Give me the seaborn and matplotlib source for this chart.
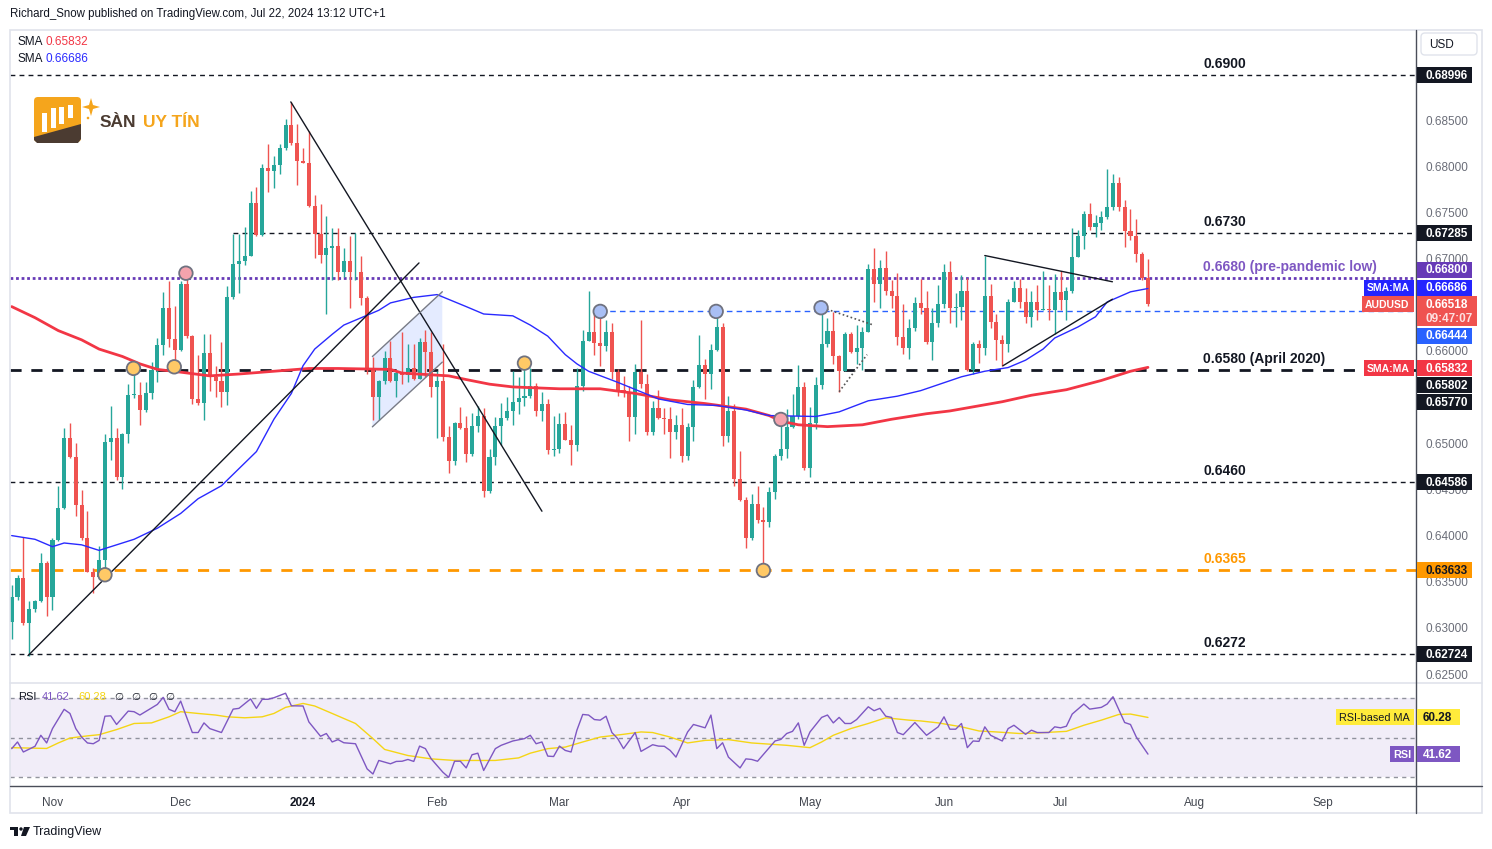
import numpy as np
import pandas as pd
import matplotlib
matplotlib.use("Agg")
import matplotlib.pyplot as plt
import seaborn as sns
from matplotlib.patches import Rectangle, FancyBboxPatch, Polygon, Circle

# --- AUD/USD daily candles, Oct 23 2023 -> Jul 22 2024 (open = previous close) ---
first_open = 0.6307
closes = [
    0.6335, 0.6355, 0.6306, 0.6321, 0.6330, 0.6371, 0.6334, 0.6396, 0.6431, 0.6507,
    0.6486, 0.6434, 0.6398, 0.6362, 0.6356, 0.6375, 0.6502, 0.6507, 0.6465, 0.6511,
    0.6553, 0.6553, 0.6537, 0.6555, 0.6580, 0.6607, 0.6647, 0.6614, 0.6602, 0.6674,
    0.6617, 0.6549, 0.6545, 0.6599, 0.6573, 0.6568, 0.6557, 0.6659, 0.6695, 0.6698,
    0.6704, 0.6761, 0.6727, 0.6799, 0.6796, 0.6802, 0.6821, 0.6846, 0.6826, 0.6807,
    0.6805, 0.6758, 0.6728, 0.6705, 0.6712, 0.6715, 0.6686, 0.6698, 0.6686, 0.6687,
    0.6658, 0.6582, 0.6551, 0.6568, 0.6593, 0.6568, 0.6577, 0.6575, 0.6582, 0.6571,
    0.6611, 0.6600, 0.6562, 0.6568, 0.6508, 0.6482, 0.6523, 0.6518, 0.6489, 0.6520,
    0.6530, 0.6449, 0.6486, 0.6520, 0.6528, 0.6536, 0.6546, 0.6550, 0.6552, 0.6563,
    0.6536, 0.6543, 0.6494, 0.6495, 0.6522, 0.6505, 0.6499, 0.6563, 0.6612, 0.6621,
    0.6610, 0.6606, 0.6621, 0.6578, 0.6559, 0.6557, 0.6529, 0.6578, 0.6565, 0.6513,
    0.6539, 0.6528, 0.6527, 0.6513, 0.6521, 0.6487, 0.6519, 0.6562, 0.6586, 0.6576,
    0.6602, 0.6627, 0.6509, 0.6536, 0.6462, 0.6440, 0.6398, 0.6435, 0.6418, 0.6416,
    0.6448, 0.6487, 0.6495, 0.6519, 0.6531, 0.6562, 0.6474, 0.6523, 0.6564, 0.6608,
    0.6623, 0.6596, 0.6579, 0.6619, 0.6600, 0.6604, 0.6621, 0.6690, 0.6674, 0.6691,
    0.6666, 0.6660, 0.6616, 0.6604, 0.6626, 0.6653, 0.6648, 0.6611, 0.6631, 0.6652,
    0.6686, 0.6648, 0.6649, 0.6666, 0.6580, 0.6608, 0.6604, 0.6661, 0.6632, 0.6613,
    0.6608, 0.6654, 0.6669, 0.6654, 0.6638, 0.6654, 0.6645, 0.6646, 0.6645, 0.6665,
    0.6656, 0.6666, 0.6703, 0.6725, 0.6749, 0.6735, 0.6739, 0.6746, 0.6757, 0.6783,
    0.6757, 0.6731, 0.6726, 0.6706, 0.6680, 0.6652,
]
highs = [
    0.6347, 0.6358, 0.6399, 0.6330, 0.6331, 0.6382, 0.6374, 0.6398, 0.6455, 0.6518,
    0.6523, 0.6501, 0.6450, 0.6428, 0.6366, 0.6390, 0.6511, 0.6541, 0.6518, 0.6512,
    0.6565, 0.6581, 0.6567, 0.6567, 0.6589, 0.6615, 0.6665, 0.6677, 0.6650, 0.6677,
    0.6683, 0.6618, 0.6597, 0.6619, 0.6619, 0.6585, 0.6611, 0.6671, 0.6728, 0.6728,
    0.6735, 0.6774, 0.6779, 0.6803, 0.6825, 0.6812, 0.6825, 0.6852, 0.6871, 0.6847,
    0.6821, 0.6839, 0.6770, 0.6760, 0.6747, 0.6734, 0.6734, 0.6712, 0.6725, 0.6729,
    0.6704, 0.6661, 0.6594, 0.6569, 0.6601, 0.6612, 0.6579, 0.6621, 0.6609, 0.6609,
    0.6615, 0.6624, 0.6621, 0.6579, 0.6609, 0.6520, 0.6524, 0.6540, 0.6531, 0.6534,
    0.6541, 0.6539, 0.6495, 0.6529, 0.6545, 0.6551, 0.6579, 0.6573, 0.6589, 0.6582,
    0.6566, 0.6557, 0.6549, 0.6531, 0.6534, 0.6535, 0.6521, 0.6582, 0.6624, 0.6666,
    0.6643, 0.6643, 0.6635, 0.6631, 0.6581, 0.6574, 0.6563, 0.6587, 0.6634, 0.6576,
    0.6547, 0.6559, 0.6539, 0.6540, 0.6532, 0.6539, 0.6523, 0.6569, 0.6618, 0.6592,
    0.6609, 0.6644, 0.6631, 0.6552, 0.6543, 0.6493, 0.6443, 0.6446, 0.6455, 0.6432,
    0.6454, 0.6489, 0.6529, 0.6538, 0.6554, 0.6586, 0.6567, 0.6540, 0.6573, 0.6647,
    0.6637, 0.6643, 0.6597, 0.6621, 0.6621, 0.6629, 0.6627, 0.6695, 0.6713, 0.6700,
    0.6709, 0.6678, 0.6685, 0.6652, 0.6636, 0.6659, 0.6679, 0.6666, 0.6647, 0.6672,
    0.6695, 0.6698, 0.6664, 0.6683, 0.6680, 0.6611, 0.6613, 0.6704, 0.6674, 0.6641,
    0.6618, 0.6657, 0.6677, 0.6679, 0.6669, 0.6666, 0.6672, 0.6688, 0.6672, 0.6684,
    0.6688, 0.6670, 0.6734, 0.6732, 0.6753, 0.6761, 0.6748, 0.6753, 0.6798, 0.6793,
    0.6789, 0.6764, 0.6755, 0.6744, 0.6708, 0.6701,
]
lows = [
    0.6289, 0.6331, 0.6304, 0.6271, 0.6318, 0.6329, 0.6314, 0.6320, 0.6395, 0.6430,
    0.6485, 0.6422, 0.6396, 0.6362, 0.6339, 0.6354, 0.6362, 0.6483, 0.6461, 0.6452,
    0.6501, 0.6550, 0.6521, 0.6535, 0.6549, 0.6567, 0.6597, 0.6605, 0.6585, 0.6601,
    0.6615, 0.6544, 0.6542, 0.6526, 0.6558, 0.6551, 0.6540, 0.6542, 0.6657, 0.6664,
    0.6694, 0.6704, 0.6725, 0.6726, 0.6773, 0.6777, 0.6793, 0.6819, 0.6824, 0.6781,
    0.6805, 0.6757, 0.6702, 0.6696, 0.6641, 0.6678, 0.6678, 0.6681, 0.6648, 0.6678,
    0.6651, 0.6576, 0.6526, 0.6526, 0.6565, 0.6567, 0.6551, 0.6565, 0.6567, 0.6570,
    0.6571, 0.6573, 0.6551, 0.6507, 0.6503, 0.6469, 0.6477, 0.6516, 0.6481, 0.6487,
    0.6513, 0.6443, 0.6447, 0.6477, 0.6499, 0.6526, 0.6521, 0.6533, 0.6541, 0.6550,
    0.6531, 0.6525, 0.6489, 0.6487, 0.6490, 0.6504, 0.6478, 0.6493, 0.6558, 0.6613,
    0.6597, 0.6585, 0.6601, 0.6571, 0.6552, 0.6551, 0.6503, 0.6511, 0.6561, 0.6510,
    0.6510, 0.6527, 0.6511, 0.6485, 0.6506, 0.6481, 0.6483, 0.6503, 0.6561, 0.6549,
    0.6560, 0.6601, 0.6498, 0.6502, 0.6455, 0.6438, 0.6388, 0.6396, 0.6415, 0.6363,
    0.6410, 0.6441, 0.6483, 0.6485, 0.6518, 0.6527, 0.6472, 0.6465, 0.6516, 0.6560,
    0.6605, 0.6587, 0.6557, 0.6579, 0.6599, 0.6587, 0.6580, 0.6621, 0.6654, 0.6648,
    0.6662, 0.6647, 0.6607, 0.6598, 0.6592, 0.6623, 0.6641, 0.6609, 0.6591, 0.6627,
    0.6648, 0.6631, 0.6627, 0.6634, 0.6579, 0.6576, 0.6588, 0.6597, 0.6626, 0.6591,
    0.6585, 0.6600, 0.6654, 0.6648, 0.6631, 0.6627, 0.6635, 0.6645, 0.6635, 0.6619,
    0.6645, 0.6635, 0.6664, 0.6703, 0.6711, 0.6732, 0.6724, 0.6732, 0.6744, 0.6754,
    0.6753, 0.6714, 0.6721, 0.6697, 0.6678, 0.6650,
]

# --- moving averages (bar index, value) ---
sma50_bar = [0, 4, 7, 9, 12, 15, 17, 21, 25, 29, 32, 36, 42, 45, 48, 50, 52, 55, 57, 60,
             63, 65, 69, 73, 78, 81, 86, 89, 92, 95, 97, 99, 104, 111, 116, 121, 126, 130,
             138, 142, 147, 152, 156, 163, 167, 171, 174, 177, 179, 183, 186, 188, 192, 195]
sma50_val = [0.6401, 0.6397, 0.6389, 0.6393, 0.6391, 0.6385, 0.6389, 0.6397, 0.6409, 0.6425,
             0.6441, 0.6455, 0.6492, 0.6527, 0.6555, 0.6585, 0.6603, 0.6619, 0.6629, 0.6637,
             0.6645, 0.6653, 0.6659, 0.6662, 0.6649, 0.6641, 0.6639, 0.6629, 0.6617, 0.6597,
             0.6587, 0.6579, 0.6567, 0.6549, 0.6543, 0.6542, 0.6537, 0.6531, 0.6530, 0.6535,
             0.6547, 0.6552, 0.6558, 0.6573, 0.6579, 0.6583, 0.6591, 0.6603, 0.6615, 0.6627,
             0.6638, 0.6654, 0.6665, 0.66686]
sma200_bar = [0, 4, 8, 12, 15, 19, 22, 25, 29, 34, 39, 45, 51, 56, 65, 67, 75, 78, 82, 86,
              94, 101, 107, 113, 119, 126, 130, 132, 135, 140, 146, 151, 157, 161, 170, 175,
              181, 187, 192, 195]
sma200_val = [0.6649, 0.6637, 0.6623, 0.6613, 0.6603, 0.6595, 0.6587, 0.6581, 0.6578, 0.6574,
              0.6576, 0.6579, 0.6582, 0.6582, 0.6581, 0.6577, 0.6574, 0.6570, 0.6565, 0.6562,
              0.6560, 0.6560, 0.6555, 0.6548, 0.6544, 0.6538, 0.6531, 0.6525, 0.6521, 0.6519,
              0.6521, 0.6527, 0.6533, 0.6536, 0.6546, 0.6553, 0.6559, 0.6569, 0.6579, 0.65832]

# --- RSI(14) and RSI-based MA ---
rsi_bar = [0, 1, 2, 4, 5, 6, 7, 9, 10, 11, 12, 13, 14, 15, 16, 17, 18, 20, 21, 22,
           25, 26, 27, 28, 29, 31, 32, 33, 34, 36, 38, 39, 41, 42, 43, 44, 45, 47, 48, 50,
           51, 53, 54, 55, 56, 57, 59, 61, 62, 63, 65, 66, 67, 68, 69, 70, 71, 72, 74, 75,
           76, 77, 78, 79, 80, 81, 83, 84, 86, 88, 89, 90, 91, 92, 93, 94, 95, 96, 97, 98,
           99, 100, 101, 102, 103, 104, 105, 107, 108, 110, 111, 112, 113, 114, 116, 117, 119, 120,
           121, 122, 123, 125, 126, 127, 128, 131, 132, 133, 134, 135, 136, 137, 139, 140, 141, 142,
           143, 144, 145, 147, 148, 149, 150, 151, 152, 153, 155, 157, 159, 160, 161, 162, 163, 164,
           165, 166, 167, 168, 170, 171, 172, 174, 175, 176, 178, 179, 180, 181, 182, 184, 185, 187,
           188, 189, 191, 192, 193, 195]
rsi_val = [44.4, 47.8, 42.7, 45.6, 51.2, 47.3, 54.6, 64.4, 62.3, 54.6, 50.3, 47.3, 46.9, 48.6, 60.9, 61.1, 56.7, 63.5, 63.2, 61.5,
           66.9, 70.5, 64.4, 63.2, 68.6, 52.6, 52.6, 57.5, 54.6, 52.6, 64.5, 64.9, 69.7, 64.9, 69.5, 69.5, 70.3, 72.6, 66.2, 66.1,
           58.0, 50.7, 52.1, 47.8, 49.0, 47.4, 46.9, 34.1, 31.5, 38.4, 36.7, 37.9, 38.0, 38.9, 37.9, 45.7, 44.4, 39.2, 32.4, 29.8,
           38.0, 38.0, 34.6, 41.3, 42.1, 33.3, 44.4, 46.1, 48.3, 49.5, 51.2, 46.9, 47.8, 40.6, 40.4, 45.7, 43.5, 42.7, 53.8, 61.8,
           61.5, 59.2, 58.9, 60.9, 52.6, 49.5, 44.4, 52.6, 43.0, 46.4, 45.7, 45.6, 43.5, 40.1, 52.9, 56.7, 55.0, 61.5,
           44.4, 47.4, 40.1, 34.6, 39.2, 38.9, 38.0, 48.3, 49.1, 52.1, 53.2, 57.5, 46.1, 52.9, 60.3, 61.5, 57.5, 60.3,
           57.2, 57.2, 59.2, 65.7, 63.7, 64.9, 60.9, 60.3, 52.6, 51.5, 57.7, 51.2, 55.5, 60.6, 54.3, 54.3, 57.2, 44.9,
           48.3, 48.1, 55.5, 51.2, 48.3, 54.6, 56.3, 51.7, 53.8, 52.6, 52.6, 55.5, 55.0, 55.8, 62.0, 67.1, 64.5, 65.4,
           67.1, 70.8, 57.7, 56.7, 50.3, 41.62]
rsima_bar = [0, 3, 6, 8, 10, 13, 15, 18, 21, 24, 27, 29, 32, 35, 37, 40, 43, 45, 47, 50,
             52, 55, 59, 62, 64, 68, 72, 76, 80, 83, 87, 89, 92, 95, 98, 101, 105, 108, 110, 113,
             116, 119, 123, 127, 129, 133, 137, 139, 141, 144, 147, 150, 154, 156, 159, 163, 166, 169, 173, 176,
             181, 184, 187, 190, 192, 195]
rsima_val = [44.9, 44.7, 44.5, 47.3, 49.8, 50.9, 51.5, 54.1, 57.2, 57.5, 60.6, 63.2, 62.3, 61.5, 60.6, 60.1, 60.6, 62.3, 65.4, 67.4,
             66.1, 62.3, 57.2, 49.5, 44.0, 40.9, 39.2, 38.4, 38.4, 38.4, 39.7, 42.1, 44.4, 45.2, 47.8, 50.3, 51.7, 52.9, 52.6, 50.3,
             47.3, 48.6, 49.0, 47.3, 46.9, 46.1, 44.9, 47.8, 51.2, 54.6, 57.2, 60.1, 58.9, 58.5, 57.5, 55.5, 53.4, 52.9, 52.1, 52.4,
             53.2, 56.3, 58.9, 61.8, 62.0, 60.28]

# --- drawings on the chart ---
trend_lines = [((2.8, 0.6271), (69.9, 0.66963)), ((47.9, 0.68707), (91.0, 0.64274))]
channel = [(61.9, 0.65188), (61.9, 0.65949), (73.9, 0.66651), (73.9, 0.65889)]
may_dotted = [((139.9, 0.66462), (147.9, 0.66290)), ((142.0, 0.65568), (146.8, 0.65970))]
jun_lines = [((167.0, 0.67043), (188.9, 0.66759)), ((170.1, 0.65849), (188.9, 0.66570))]
touch_bar = [16.0, 20.9, 27.9, 88.0, 129.0, 29.9, 132.0, 101.0, 120.9, 138.9]
touch_price = [0.63586, 0.65821, 0.65838, 0.65878, 0.63633, 0.66852, 0.65268, 0.66438, 0.66438, 0.66478]
touch_kind = ["o", "o", "o", "o", "o", "p", "p", "b", "b", "b"]

level_price = [0.68996, 0.67285, 0.6680, 0.6580, 0.64586, 0.63633, 0.62724]
level_text = ["0.6900", "0.6730", "0.6680 (pre-pandemic low)", "0.6580 (April 2020)",
              "0.6460", "0.6365", "0.6272"]

# ------------------------------------------------------------------
sns.set_theme(style="white")
plt.rcParams["font.family"] = ["Liberation Sans", "DejaVu Sans"]

W, H = 1492, 849
fig = plt.figure(figsize=(W / 100, H / 100), dpi=100)
fig.patch.set_facecolor("white")

ax = fig.add_axes([10 / W, 1 - 683 / H, 1406 / W, 653 / H])
rax = fig.add_axes([10 / W, 1 - 786 / H, 1406 / W, 103 / H])
ov = fig.add_axes([0, 0, 1, 1], zorder=10)
ov.set_xlim(0, W)
ov.set_ylim(H, 0)
ov.axis("off")
ov.patch.set_alpha(0)

n = len(closes)
dates = pd.bdate_range("2023-10-23", periods=n)
df = pd.DataFrame({"date": dates, "bar": np.arange(n), "close": closes,
                   "high": highs, "low": lows})
df["open"] = [first_open] + closes[:-1]
df["high"] = df[["high", "open", "close"]].max(axis=1)
df["low"] = df[["low", "open", "close"]].min(axis=1)
up = df["close"] >= df["open"]
col = np.where(up, "#26a69a", "#ef5350")

# --- candles ---
ax.vlines(df["bar"], df["low"], df["high"], colors=col, lw=1, zorder=3)
body = (df["close"] - df["open"]).abs().clip(lower=0.0001)
ax.bar(df["bar"], body, bottom=df[["open", "close"]].min(axis=1), width=0.7,
       color=col, linewidth=0, zorder=4)

# --- SMAs ---
sns.lineplot(x=sma200_bar, y=sma200_val, ax=ax, color="#f23645", lw=2, legend=False, zorder=5)
sns.lineplot(x=sma50_bar, y=sma50_val, ax=ax, color="#2a2aff", lw=1, legend=False, zorder=5)

# --- horizontal levels ---
lvl_style = {
    "0.6900": dict(color="#131722", lw=1, ls=(0, (3.5, 3)), start=None, tc="#131722"),
    "0.6730": dict(color="#131722", lw=1, ls=(0, (3.5, 3)), start=38, tc="#131722"),
    "0.6680 (pre-pandemic low)": dict(color="#673ab7", lw=2, ls=(0, (1, 1)), start=None, tc="#7e57c2"),
    "0.6580 (April 2020)": dict(color="#131722", lw=2, ls=(0, (4, 3.5)), start=None, tc="#131722"),
    "0.6460": dict(color="#131722", lw=1, ls=(0, (3.5, 3)), start=None, tc="#131722"),
    "0.6365": dict(color="#ff9800", lw=2, ls=(0, (4, 3.5)), start=None, tc="#ff9800"),
    "0.6272": dict(color="#131722", lw=1, ls=(0, (3.5, 3)), start=None, tc="#131722"),
}
xmin, xmax = -0.29, 241.0
for p, t in zip(level_price, level_text):
    st = lvl_style[t]
    x0 = xmin if st["start"] is None else st["start"]
    ax.hlines(p, x0, xmax, colors=st["color"], lw=st["lw"], linestyles=[st["ls"]], zorder=2)
    ax.annotate(t, xy=((1203 - 10) / 1406, p), xycoords=("axes fraction", "data"),
                xytext=(0, 4), textcoords="offset pixels", color=st["tc"], fontsize=10,
                fontweight="bold", va="bottom", ha="left", zorder=6)
ax.hlines(0.66444, 101, xmax, colors="#2962ff", lw=1, linestyles=[(0, (4, 3))], zorder=2)

# --- trendlines / channel / triangles ---
for (a, b) in trend_lines:
    ax.plot([a[0], b[0]], [a[1], b[1]], color="#131722", lw=1, zorder=6)
ax.add_patch(Polygon(channel, closed=True, fc="#2962ff", alpha=0.12, ec="none", zorder=1))
ax.plot([channel[0][0], channel[3][0]], [channel[0][1], channel[3][1]], color="#787b86", lw=1, zorder=6)
ax.plot([channel[1][0], channel[2][0]], [channel[1][1], channel[2][1]], color="#787b86", lw=1, zorder=6)
for (a, b) in may_dotted:
    ax.plot([a[0], b[0]], [a[1], b[1]], color="#555555", lw=1.2, ls=(0, (1, 1.5)), zorder=6)
for (a, b) in jun_lines:
    ax.plot([a[0], b[0]], [a[1], b[1]], color="#131722", lw=1, zorder=6)

kind_color = {"o": "#ffc966", "p": "#f4a3ad", "b": "#a9bff5"}
ax.scatter(touch_bar, touch_price, s=95, c=[kind_color[k] for k in touch_kind],
           edgecolors="#6f7280", linewidths=1.3, zorder=7)

ax.set_xlim(xmin, xmax)
ax.set_ylim(0.624138, 0.694855)
ax.set_xticks([])
ax.set_yticks([])
ax.tick_params(labelbottom=False, labelleft=False, length=0)
ax.set_xlabel("")
ax.set_ylabel("")
for s in ax.spines.values():
    s.set_visible(False)

# --- RSI pane ---
rax.axhspan(30, 70, color="#7e57c2", alpha=0.1, lw=0, zorder=0)
for lv in (70, 50, 30):
    rax.axhline(lv, color="#787b86", lw=1, ls=(0, (3, 3)), alpha=0.8, zorder=1)
sns.lineplot(x=rsima_bar, y=rsima_val, ax=rax, color="#f5d515", lw=1, legend=False, zorder=2)
sns.lineplot(x=rsi_bar, y=rsi_val, ax=rax, color="#7e57c2", lw=1, legend=False, zorder=3)
rax.set_xlim(xmin, xmax)
rax.set_ylim(25.4, 77.8)
rax.set_yticks([])
rax.set_ylabel("")
rax.set_xlabel("")
for s in rax.spines.values():
    s.set_visible(False)

ext = pd.bdate_range("2023-10-23", "2024-09-30")
ticks, labels = [], []
for per in pd.period_range("2023-11", "2024-09", freq="M"):
    pos = np.flatnonzero((ext.year == per.year) & (ext.month == per.month))[0]
    ticks.append(pos)
    labels.append("2024" if per.month == 1 else per.strftime("%b"))
rax.set_xticks(ticks)
rax.set_xticklabels(labels)
rax.tick_params(axis="x", length=0, pad=8, labelsize=8.5, labelcolor="#42464f")
for tl in rax.get_xticklabels():
    if tl.get_text() == "2024":
        tl.set_fontweight("bold")
        tl.set_color("#131722")

# ------------------------------------------------------------------
# frame
ov.add_patch(Rectangle((10, 30), 1472, 783, fill=False, ec="#e0e3eb", lw=1.2))
ov.plot([10, 1482], [683, 683], color="#e0e3eb", lw=1.2)
ov.plot([10, 1482], [786, 786], color="#4a4e59", lw=1)
ov.plot([1416, 1416], [30, 813], color="#4a4e59", lw=1)


def py(price, a=ax):
    d = a.transData.transform((0, price))
    return ov.transData.inverted().transform(d)[1]


def tag(x0, x1, yc, text, bg, fg, h=16, tx=None, fs=8.5, bold=True):
    ov.add_patch(Rectangle((x0, yc - h / 2), x1 - x0, h, fc=bg, ec="none", zorder=5))
    ov.text(x0 + 8 if tx is None else tx, yc + 0.5, text, color=fg, fontsize=fs,
            fontweight="bold" if bold else "normal", va="center", ha="left", zorder=6)


# price scale ticks (the ones hidden behind labels are left out)
for p in np.arange(0.625, 0.6876, 0.005):
    if abs(p - 0.665) < 1e-6 or abs(p - 0.655) < 1e-6:
        continue
    ov.text(1425, py(p) + 0.5, f"{p:.5f}", color="#6a6d78", fontsize=8.5,
            va="center", ha="left", zorder=3)

# price scale labels
tag(1417, 1472, py(0.68996), "0.68996", "#131722", "white")
tag(1417, 1472, py(0.67285), "0.67285", "#131722", "white")
tag(1417, 1472, py(0.6680) - 8, "0.66800", "#673ab7", "white")
tag(1417, 1472, py(0.66686) - 1, "0.66686", "#2424ff", "white")
tag(1364, 1414, py(0.66686) - 1, "SMA:MA", "#2424ff", "white", tx=1367, fs=7.5)
yc = py(0.66518)
ov.add_patch(Rectangle((1417, yc - 8), 60, 30, fc="#ef5350", ec="none", zorder=5))
ov.text(1425, yc + 0.5, "0.66518", color="white", fontsize=8.5, fontweight="bold",
        va="center", zorder=6)
ov.text(1425, yc + 14.5, "09:47:07", color="#fde0e0", fontsize=8.5, fontweight="bold",
        va="center", zorder=6)
tag(1362, 1414, yc, "AUDUSD", "#ef5350", "white", tx=1365, fs=7.5)
tag(1417, 1472, py(0.66444) + 25, "0.66444", "#2962ff", "white")
tag(1417, 1472, py(0.65832) + 1, "0.65832", "#f23645", "white")
tag(1364, 1414, py(0.65832) + 1, "SMA:MA", "#f23645", "white", tx=1367, fs=7.5)
tag(1417, 1472, py(0.65802) + 15, "0.65802", "#131722", "white")
tag(1417, 1472, py(0.65770) + 29, "0.65770", "#131722", "white")
tag(1417, 1472, py(0.64586), "0.64586", "#131722", "white")
tag(1417, 1472, py(0.63633), "0.63633", "#ff9800", "#131722")
tag(1417, 1472, py(0.62724), "0.62724", "#131722", "white")

# currency box
ov.add_patch(FancyBboxPatch((1421, 33), 56, 22, boxstyle="round,pad=0,rounding_size=4",
                            fc="white", ec="#e0e3eb", lw=1))
ov.text(1429, 44.5, "USD", fontsize=8.5, color="#131722", va="center")

# RSI labels
ry_ma = py(60.28, rax)
ry_rsi = py(41.62, rax)
tag(1336, 1414, ry_ma, "RSI-based MA", "#ffeb3b", "#131722", tx=1339, fs=7.8, bold=False)
tag(1417, 1460, ry_ma, "60.28", "#ffeb3b", "#131722", tx=1423)
tag(1390, 1414, ry_rsi, "RSI", "#7e57c2", "white", tx=1393, fs=7.8)
tag(1417, 1460, ry_rsi, "41.62", "#7e57c2", "white", tx=1423)

ov.text(18, 697, "RSI", fontsize=8, color="#131722", va="center")
ov.text(42, 697, "41.62", fontsize=8, color="#7e57c2", va="center")
ov.text(78, 697, "60.28", fontsize=8, color="#f5d515", va="center")
for xx in (114, 131, 148, 165):
    ov.text(xx, 697, "\u2205", fontsize=7.5, color="#131722", va="center")

# header / legend
ov.text(10, 14, "Richard_Snow published on TradingView.com, Jul 22, 2024 13:12 UTC+1",
        fontsize=8.3, color="#131722", va="center")
ov.text(17, 42, "SMA", fontsize=8.5, color="#131722", va="center")
ov.text(46, 42, "0.65832", fontsize=8.5, color="#f23645", va="center")
ov.text(17, 59, "SMA", fontsize=8.5, color="#131722", va="center")
ov.text(46, 59, "0.66686", fontsize=8.5, color="#2a2aff", va="center")

# logo
ov.add_patch(FancyBboxPatch((34, 97), 47, 45, boxstyle="round,pad=0,rounding_size=4",
                            fc="#f5a51c", ec="none", zorder=4))
ov.add_patch(Polygon([(34, 137), (81, 124), (81, 139), (78, 143), (37, 143), (34, 140)],
                     closed=True, fc="#4b3b31", ec="none", zorder=5))
for (bx, btop, bbot) in [(42.3, 113, 132), (50.8, 108, 128), (59.3, 107, 124), (68.3, 105, 118)]:
    ov.add_patch(Rectangle((bx, btop), 5, bbot - btop, fc="white", ec="none", zorder=6))
ov.add_patch(Polygon([(91, 98), (93, 105), (100, 107), (93, 109), (91, 116), (89, 109),
                      (82, 107), (89, 105)], closed=True, fc="#f5a51c", ec="none", zorder=6))
ov.add_patch(Circle((88, 118), 1.3, fc="#f5a51c", ec="none", zorder=6))
ov.text(100, 122, "SÀN", fontsize=12.5, fontweight="bold", color="#4b3b31", va="center")
ov.text(143, 122, "UY TÍN", fontsize=12.5, fontweight="bold", color="#f5a51c", va="center")

# footer logo
ov.add_patch(Rectangle((10, 827), 8, 3, fc="#131722", ec="none"))
ov.add_patch(Rectangle((14, 827), 4, 9, fc="#131722", ec="none"))
ov.add_patch(Circle((21, 829), 1.7, fc="#131722", ec="none"))
ov.add_patch(Polygon([(24, 827), (30, 827), (26, 836), (21, 836)], closed=True,
                     fc="#131722", ec="none"))
ov.text(33, 831.5, "TradingView", fontsize=9, color="#131722", va="center")

plt.savefig("out.png", dpi=100)
